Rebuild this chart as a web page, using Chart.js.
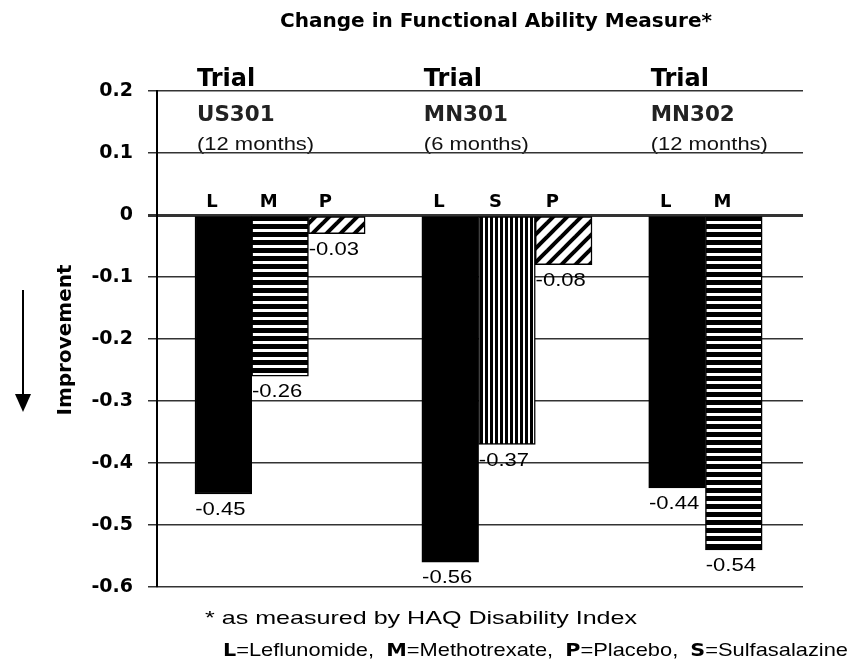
<!DOCTYPE html>
<html><head><meta charset="utf-8">
<script src="https://cdn.jsdelivr.net/npm/chart.js@4.4.1/dist/chart.umd.min.js"></script>
<style>html,body{margin:0;padding:0;background:#fff;}</style>
</head><body>
<canvas id="c" width="854" height="664" style="display:block;width:854px;height:664px"></canvas>
<script>
const chartTitle = 'Change in Functional Ability Measure*';
const trials = ['US301', 'MN301', 'MN302'];
const trialDurations = ['(12 months)', '(6 months)', '(12 months)'];
const trialDrugs = [['L', 'M', 'P'], ['L', 'S', 'P'], ['L', 'M']];
const trialValues = [[-0.45, -0.26, -0.03], [-0.56, -0.37, -0.08], [-0.44, -0.54]];
const yTickMin = -0.6, yTickMax = 0.2, yTickStep = 0.1;
const yAxisTitle = 'Improvement';
const footnote = '* as measured by HAQ Disability Index';
const legendCodes = ['L', 'M', 'P', 'S'];
const legendNames = ['Leflunomide', 'Methotrexate', 'Placebo', 'Sulfasalazine'];

function makePattern(code) {
  if (code === 'L') return '#000';
  const c = document.createElement('canvas');
  const g = c.getContext('2d');
  if (code === 'M') {
    c.width = 8; c.height = 8;
    g.fillStyle = '#fff'; g.fillRect(0, 0, 8, 8);
    g.fillStyle = '#000'; g.fillRect(0, 0, 8, 5);
  } else if (code === 'S') {
    c.width = 5; c.height = 5;
    g.fillStyle = '#fff'; g.fillRect(0, 0, 5, 5);
    g.fillStyle = '#000'; g.fillRect(0, 0, 3, 5);
  } else {
    c.width = 14; c.height = 14;
    g.fillStyle = '#fff'; g.fillRect(0, 0, 14, 14);
    g.strokeStyle = '#000'; g.lineWidth = 4;
    [[-7, 7, 7, -7], [0, 14, 14, 0], [7, 21, 21, 7]].forEach(l => {
      g.beginPath(); g.moveTo(l[0], l[1]); g.lineTo(l[2], l[3]); g.stroke();
    });
  }
  return g.createPattern(c, 'repeat');
}

// Build bar table from the data arrays (one empty slot between trials)
const barPoints = [], barFills = [], barCodes = [], barGroup = [];
let slot = 1;
trials.forEach((t, gi) => {
  trialDrugs[gi].forEach((d, i) => {
    barPoints.push({ x: slot, y: trialValues[gi][i] });
    barFills.push(makePattern(d));
    barCodes.push(d);
    barGroup.push(gi);
    slot++;
  });
  slot++;
});

// draw text horizontally stretched by factor sx
function stretchText(ctx, text, x, y, sx, align) {
  ctx.save();
  ctx.translate(x, y);
  ctx.scale(sx, 1);
  ctx.textAlign = align || 'left';
  ctx.fillText(text, 0, 0);
  ctx.restore();
}

const annot = {
  id: 'annot',
  beforeDraw(chart) {
    const ctx = chart.ctx;
    const meta = chart.getDatasetMeta(0);
    ctx.save();
    ctx.fillStyle = '#000';
    // title
    ctx.font = 'bold 19px "DejaVu Sans"';
    ctx.textBaseline = 'middle';
    const tw = ctx.measureText(chartTitle).width;
    stretchText(ctx, chartTitle, 496, 22, 432 / tw, 'center');
    // trial headers
    ctx.textBaseline = 'alphabetic';
    trials.forEach((t, gi) => {
      const idx = barGroup.indexOf(gi);
      const el = meta.data[idx];
      const left = el.x - el.width / 2 + 2;
      ctx.fillStyle = '#000';
      ctx.font = 'bold 24px "DejaVu Sans"';
      stretchText(ctx, 'Trial', left, 86, 1);
      ctx.fillStyle = '#222';
      ctx.font = 'bold 21px "DejaVu Sans"';
      stretchText(ctx, t, left, 121, 1.02);
      ctx.fillStyle = '#111';
      ctx.font = '18px "Liberation Sans"';
      stretchText(ctx, trialDurations[gi], left, 150, 1.22);
    });
    ctx.restore();
  },
  afterDatasetsDraw(chart) {
    const ctx = chart.ctx;
    const meta = chart.getDatasetMeta(0);
    ctx.save();
    ctx.fillStyle = '#000';
    const zeroY = chart.scales.y.getPixelForValue(0);
    meta.data.forEach((el, i) => {
      // bar letters
      ctx.font = 'bold 18px "DejaVu Sans"';
      ctx.textBaseline = 'alphabetic';
      stretchText(ctx, barCodes[i], el.x - el.width * 0.2, zeroY - 8, 1, 'center');
      // value labels
      ctx.font = '19px "Liberation Sans"';
      ctx.textBaseline = 'middle';
      stretchText(ctx, barPoints[i].y.toFixed(2), el.x - 3, el.y + 16, 1.16, 'center');
    });
    // y axis title
    ctx.save();
    ctx.translate(66, 340);
    ctx.rotate(-Math.PI / 2);
    ctx.font = 'bold 20px "DejaVu Sans"';
    ctx.textAlign = 'center'; ctx.textBaseline = 'middle';
    ctx.fillText(yAxisTitle, 0, 0);
    ctx.restore();
    // arrow
    ctx.strokeStyle = '#000'; ctx.lineWidth = 2;
    ctx.beginPath(); ctx.moveTo(23, 290); ctx.lineTo(23, 398); ctx.stroke();
    ctx.beginPath(); ctx.moveTo(15, 394); ctx.lineTo(31, 394); ctx.lineTo(23, 412); ctx.closePath(); ctx.fill();
    // footnote
    ctx.textBaseline = 'middle';
    ctx.font = '19px "Liberation Sans"';
    const fw = ctx.measureText(footnote).width;
    stretchText(ctx, footnote, 205, 619, 432 / fw);
    // legend line (bold code + "=Name")
    const parts = [];
    legendCodes.forEach((c, i) => {
      parts.push({ t: c, f: 'bold 18px "DejaVu Sans"' });
      parts.push({ t: '=' + legendNames[i] + (i < legendCodes.length - 1 ? ',  ' : ''), f: '19px "Liberation Sans"' });
    });
    let total = 0;
    parts.forEach(p => { ctx.font = p.f; p.w = ctx.measureText(p.t).width; total += p.w; });
    const lsx = 625 / total;
    let x = 223;
    parts.forEach(p => {
      ctx.font = p.f;
      stretchText(ctx, p.t, x, 651, lsx);
      x += p.w * lsx;
    });
    ctx.restore();
  }
};

new Chart(document.getElementById('c'), {
  type: 'bar',
  data: {
    datasets: [{
      data: barPoints,
      backgroundColor: barFills,
      borderColor: '#000',
      borderWidth: 1.5,
      borderSkipped: false,
      barPercentage: 1,
      categoryPercentage: 1
    }]
  },
  options: {
    responsive: false,
    animation: false,
    layout: { padding: { top: 91, bottom: 77, left: 0, right: 51 } },
    plugins: { legend: { display: false }, tooltip: { enabled: false }, title: { display: false } },
    scales: {
      x: {
        type: 'linear', min: -0.17, max: 11.22, display: false, offset: false,
        ticks: { stepSize: 1, includeBounds: false },
        grid: { offset: false }
      },
      y: {
        min: yTickMin, max: yTickMax,
        ticks: {
          stepSize: yTickStep, color: '#000', padding: 15,
          font: { family: 'DejaVu Sans', weight: 'bold', size: 19 },
          callback: v => String(Math.round(v * 10) / 10)
        },
        grid: {
          color: '#333',
          lineWidth: c => (c.tick && Math.abs(c.tick.value) < 1e-9) ? 3 : 1.5,
          tickLength: 9, drawTicks: true
        },
        border: { display: true, color: '#000', width: 2 },
        afterFit: s => { s.width = 157; }
      }
    }
  },
  plugins: [annot]
});
</script>
</body></html>
